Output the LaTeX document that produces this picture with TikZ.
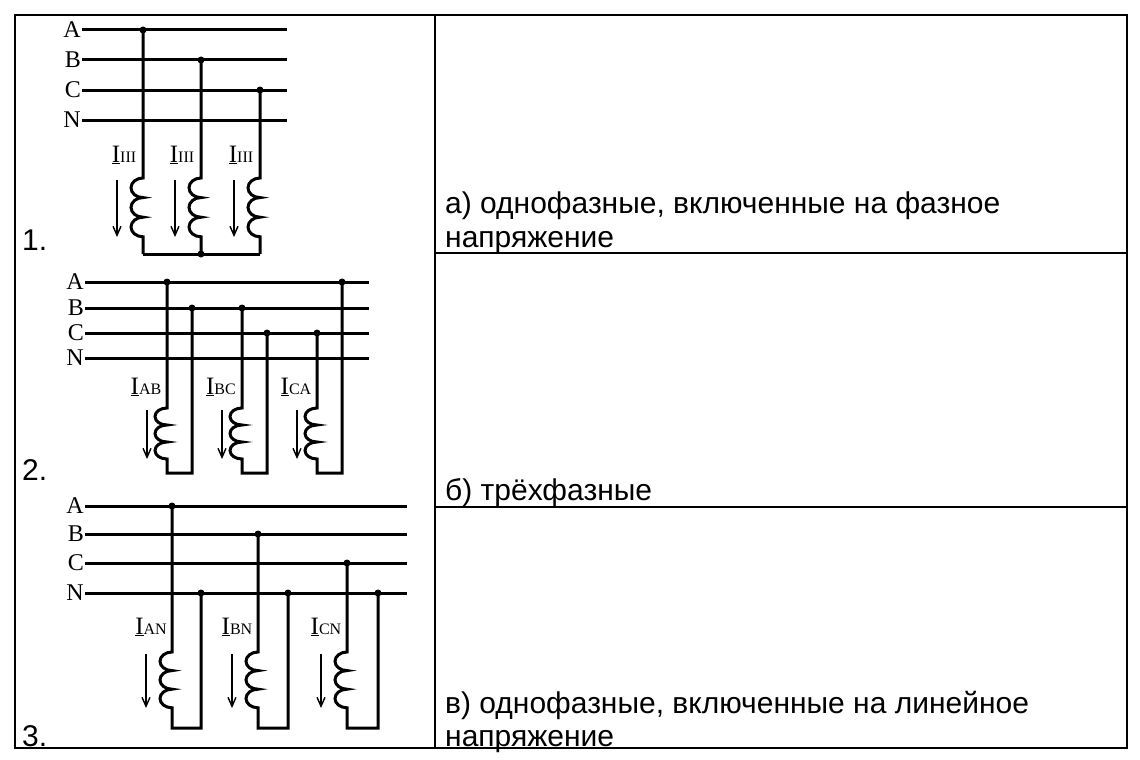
\documentclass[tikz,border=0pt]{standalone}
\usepackage{fontspec}
\setmainfont{Liberation Serif}
\newfontfamily\txtfont{Liberation Sans}
\usetikzlibrary{arrows.meta}
\tikzset{
  wire/.style={line width=3pt},
  cur/.style={line width=1.4pt,-{Straight Barb[length=9pt,width=8pt]}},
  bus/.style={font=\fontsize{24}{24}\selectfont,anchor=east,inner sep=1pt},
  ilab/.style={font=\fontsize{25}{25}\selectfont,inner sep=0pt},
  txt/.style={font=\txtfont\fontsize{30}{30}\selectfont,anchor=base west,inner sep=0pt},
  dot/.style={circle,fill,inner sep=0pt,minimum size=7pt}
}
% three bumps of a coil, bulging to the left
\newcommand\coilarcs[1]{arc[start angle=270,end angle=90,x radius=12,y radius=#1]
  arc[start angle=270,end angle=90,x radius=12,y radius=#1]
  arc[start angle=270,end angle=90,x radius=12,y radius=#1]}
\begin{document}
\begin{tikzpicture}[x=1pt,y=-1pt]
  \useasboundingbox (0,0) rectangle (1140,760);
  % table
  \draw[line width=2.5pt] (15,15) rectangle (1127,748);
  \draw[line width=2pt] (435,15) -- (435,748);
  \draw[line width=2pt] (435,253) -- (1127,253);
  \draw[line width=2pt] (435,507) -- (1127,507);
  \node[txt] (ta1) at (445,213) {а) однофазные, включенные на фазное};
  \node[txt] (ta2) at (445,247) {напряжение};
  \node[txt] (tb) at (445,500) {б) трёхфазные};
  \node[txt] (tc1) at (445,713) {в) однофазные, включенные на линейное};
  \node[txt] (tc2) at (445,746) {напряжение};
  \node[txt] (n1) at (22,250) {1.};
  \node[txt] (n2) at (22,480) {2.};
  \node[txt] (n3) at (22,746) {3.};

  % scheme 1
  \foreach \y/\l in {30/A,60/B,90/C,120/N}
    {\draw[wire] (82,\y) -- (287,\y); \node[bus] at (82,\y) {\l};}
  \foreach \x/\y in {143/30,201/60,260/90}
  {
    \draw[wire] (\x,\y) -- (\x,178) \coilarcs{9.8} -- (\x,254);
    \node[dot] at (\x,\y) {};
    \draw[cur] (\x-26,180) -- (\x-26,237);
    \node[ilab] at (\x-19,155) {\underline{I}\fontsize{16}{16}\selectfont III};
  }
  \draw[wire] (143,254) -- (260,254);
  \node[dot] at (201,254) {};

  % scheme 2
  \foreach \y/\l in {282/A,308/B,333/C,358/N}
    {\draw[wire] (85,\y) -- (369,\y); \node[bus] at (85,\y) {\l};}
  \foreach \x/\ya/\yb/\s in {167/282/308/AB,242/308/333/BC,317/333/282/CA}
  {
    \draw[wire] (\x,\ya) -- (\x,408) \coilarcs{8.5} -- (\x,473)
      -- (\x+25,473) -- (\x+25,\yb);
    \node[dot] at (\x,\ya) {};
    \node[dot] at (\x+25,\yb) {};
    \draw[cur] (\x-20,410) -- (\x-20,459);
    \node[ilab] at (\x-21,387) {\underline{I}\fontsize{16}{16}\selectfont \s};
  }

  % scheme 3
  \foreach \y/\l in {506/A,534/B,563/C,593/N}
    {\draw[wire] (85,\y) -- (407,\y); \node[bus] at (85,\y) {\l};}
  \foreach \x/\xn/\y/\s in {172/201/506/AN,258/288/534/BN,347/378/563/CN}
  {
    \draw[wire] (\x,\y) -- (\x,652) \coilarcs{9.3} -- (\x,728)
      -- (\xn,728) -- (\xn,593);
    \node[dot] at (\x,\y) {};
    \node[dot] at (\xn,593) {};
    \draw[cur] (\x-26,654) -- (\x-26,708);
    \node[ilab] at (\x-21,627) {\underline{I}\fontsize{16}{16}\selectfont \s};
  }
\end{tikzpicture}
\end{document}
